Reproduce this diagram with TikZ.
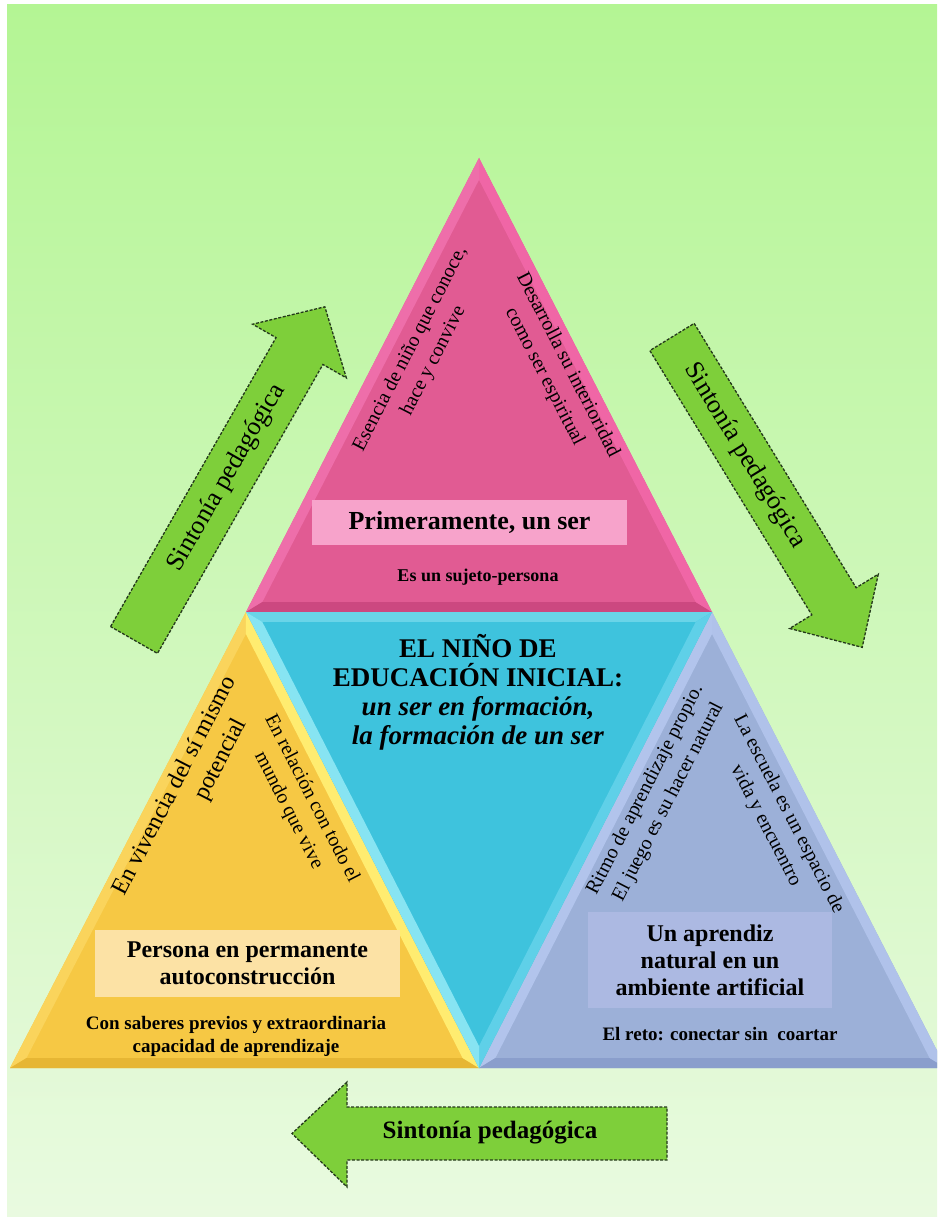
\documentclass[tikz,border=0pt]{standalone}
\usepackage{fontspec}
\setmainfont{Liberation Serif}
\usetikzlibrary{calc}

\definecolor{bgtop}{RGB}{180,245,148}
\definecolor{bgbot}{RGB}{233,250,224}
\definecolor{pinkmain}{RGB}{225,91,147}
\definecolor{pinkhi}{RGB}{238,110,170}
\definecolor{pinklo}{RGB}{204,72,128}
\definecolor{pinkhiR}{RGB}{240,102,166}
\definecolor{cyanmain}{RGB}{62,195,221}
\definecolor{cyanhiT}{RGB}{105,212,232}
\definecolor{cyanhiR}{RGB}{95,208,232}
\definecolor{cyanhiL}{RGB}{135,228,242}
\definecolor{yellowmain}{RGB}{246,200,68}
\definecolor{yelhi}{RGB}{250,212,92}
\definecolor{yello}{RGB}{230,182,52}
\definecolor{yelhiR}{RGB}{255,236,112}
\definecolor{bluemain}{RGB}{156,176,216}
\definecolor{bluehi}{RGB}{178,196,236}
\definecolor{bluelo}{RGB}{138,158,204}
\definecolor{bluehiR}{RGB}{176,194,234}
\definecolor{pinkbox}{RGB}{247,163,203}
\definecolor{yellowbox}{RGB}{252,226,165}
\definecolor{bluebox}{RGB}{172,185,226}
\definecolor{arrowgreen}{RGB}{126,207,58}
\definecolor{arrowline}{RGB}{36,56,28}

% one bevelled triangular facet: vertices, incentre, face colour, three edge colours
\newcommand\facet[8]{%
  \fill[#5] (#1) -- (#2) -- (#3) -- cycle;
  \coordinate (fa) at ($(#4)!0.93!(#1)$);
  \coordinate (fb) at ($(#4)!0.93!(#2)$);
  \coordinate (fc) at ($(#4)!0.93!(#3)$);
  \fill[#6] (#1) -- (#2) -- (fb) -- (fa) -- cycle;
  \fill[#7] (#2) -- (#3) -- (fc) -- (fb) -- cycle;
  \fill[#8] (#3) -- (#1) -- (fa) -- (fc) -- cycle;
}

\tikzset{
  sidetext/.style={font=\fontsize{20}{26}\selectfont, align=center, inner sep=0pt},
  bigside/.style={font=\fontsize{24}{29}\selectfont, align=center, inner sep=0pt},
  boxlabel/.style={font=\bfseries\fontsize{24}{27}\selectfont, align=center, inner sep=0pt},
  smalllabel/.style={font=\bfseries\fontsize{19}{23}\selectfont, align=center, inner sep=0pt},
  coretitle/.style={font=\bfseries\fontsize{27}{29}\selectfont, align=center, inner sep=0pt},
  arrowbody/.style={fill=arrowgreen, draw=arrowline, line width=1.3pt, dash pattern=on 3pt off 1.6pt},
  arrowtext/.style={font=\fontsize{26}{30}\selectfont, inner sep=0pt},
}

\begin{document}
\begin{tikzpicture}[x=1pt,y=-1pt]
\useasboundingbox (0,0) rectangle (937,1217);
\clip (0,0) rectangle (937,1217);

% page and background
\fill[white] (0,0) rectangle (937,1217);
\shade[top color=bgtop, bottom color=bgbot] (7,5) rectangle (937,1217);

% corners of the pyramid
\coordinate (apex) at (479,158);
\coordinate (ml) at (246,612);
\coordinate (mr) at (712,612);
\coordinate (bl) at (10,1068);
\coordinate (bm) at (479,1068);
\coordinate (br) at (946,1068);
\coordinate (inctop) at (479,470);
\coordinate (inccyan) at (479,754);
\coordinate (incyel) at (245,926);
\coordinate (incblue) at (712,926);

\facet{apex}{ml}{mr}{inctop}{pinkmain}{pinkhi}{pinklo}{pinkhiR}
\facet{ml}{bl}{bm}{incyel}{yellowmain}{yelhi}{yello}{yelhiR}
\facet{mr}{bm}{br}{incblue}{bluemain}{bluehi}{bluelo}{bluehiR}
\facet{ml}{mr}{bm}{inccyan}{cyanmain}{cyanhiT}{cyanhiR}{cyanhiL}

% top facet
\node[sidetext, rotate=62.8] (esencia) at (422,355) {Esencia de niño que conoce,\\hace y convive};
\node[sidetext, rotate=-62.8] (desarrolla) at (556,371) {Desarrolla su interioridad\\como ser espiritual};
\node[boxlabel, fill=pinkbox, minimum width=315pt, minimum height=45pt, font=\bfseries\fontsize{26}{28}\selectfont] (ser) at (469.5,522.5) {Primeramente, un ser};
\node[smalllabel, font=\bfseries\fontsize{18}{22}\selectfont] (sujeto) at (478,577) {Es un sujeto-persona};

% centre facet
\node[coretitle] (core) at (478,692) {EL NIÑO DE\\EDUCACIÓN INICIAL:\\\textit{un ser en formación,}\\\textit{la formación de un ser}};

% left facet
\node[bigside, rotate=62.8] (vivencia) at (188,793) {En vivencia del sí mismo\\\hspace*{90pt}potencial};
\node[sidetext, rotate=-62.8] (relacion) at (300,805) {En relación con todo el\\mundo que vive};
\node[boxlabel, fill=yellowbox, minimum width=305pt, minimum height=67pt] (persona) at (247.5,963.5) {Persona en permanente\\autoconstrucción};
\node[smalllabel] (saberes) at (236,1036.5) {Con saberes previos y extraordinaria\\capacidad de aprendizaje};

% right facet
\node[sidetext, rotate=62.8] (ritmo) at (657,796) {Ritmo de aprendizaje propio.\\El juego es su hacer natural};
\node[sidetext, rotate=-62.8] (escuela) at (777,820) {La escuela es un espacio de\\vida y encuentro};
\node[boxlabel, fill=bluebox, minimum width=244pt, minimum height=96pt] (aprendiz) at (710,960) {Un aprendiz\\natural en un\\ambiente artificial};
\node[smalllabel] (reto) at (720,1034) {El reto: conectar sin\ \ coartar};

% cycle arrows
\begin{scope}[shift={(134,640)}, rotate=60.2]
  \draw[arrowbody] (0,-27) -- (333,-27) -- (333,-54) -- (384,0) -- (333,54) -- (333,27) -- (0,27) -- cycle;
  \node[arrowtext, rotate=60.2] (upword) at (187,0) {Sintonía pedagógica};
\end{scope}
\begin{scope}[shift={(672,337)}, rotate=-58.5]
  \draw[arrowbody] (0,-26) -- (310,-26) -- (310,-52) -- (364,0) -- (310,52) -- (310,26) -- (0,26) -- cycle;
  \node[arrowtext, rotate=-58.5] (downword) at (139,0) {Sintonía pedagógica};
\end{scope}
\draw[arrowbody] (667,1107) -- (347,1107) -- (347,1082) -- (292,1133.5) -- (347,1187) -- (347,1160) -- (667,1160) -- cycle;
\node[arrowtext, font=\bfseries\fontsize{25}{30}\selectfont] (backword) at (490,1133) {Sintonía pedagógica};
\end{tikzpicture}
\end{document}
